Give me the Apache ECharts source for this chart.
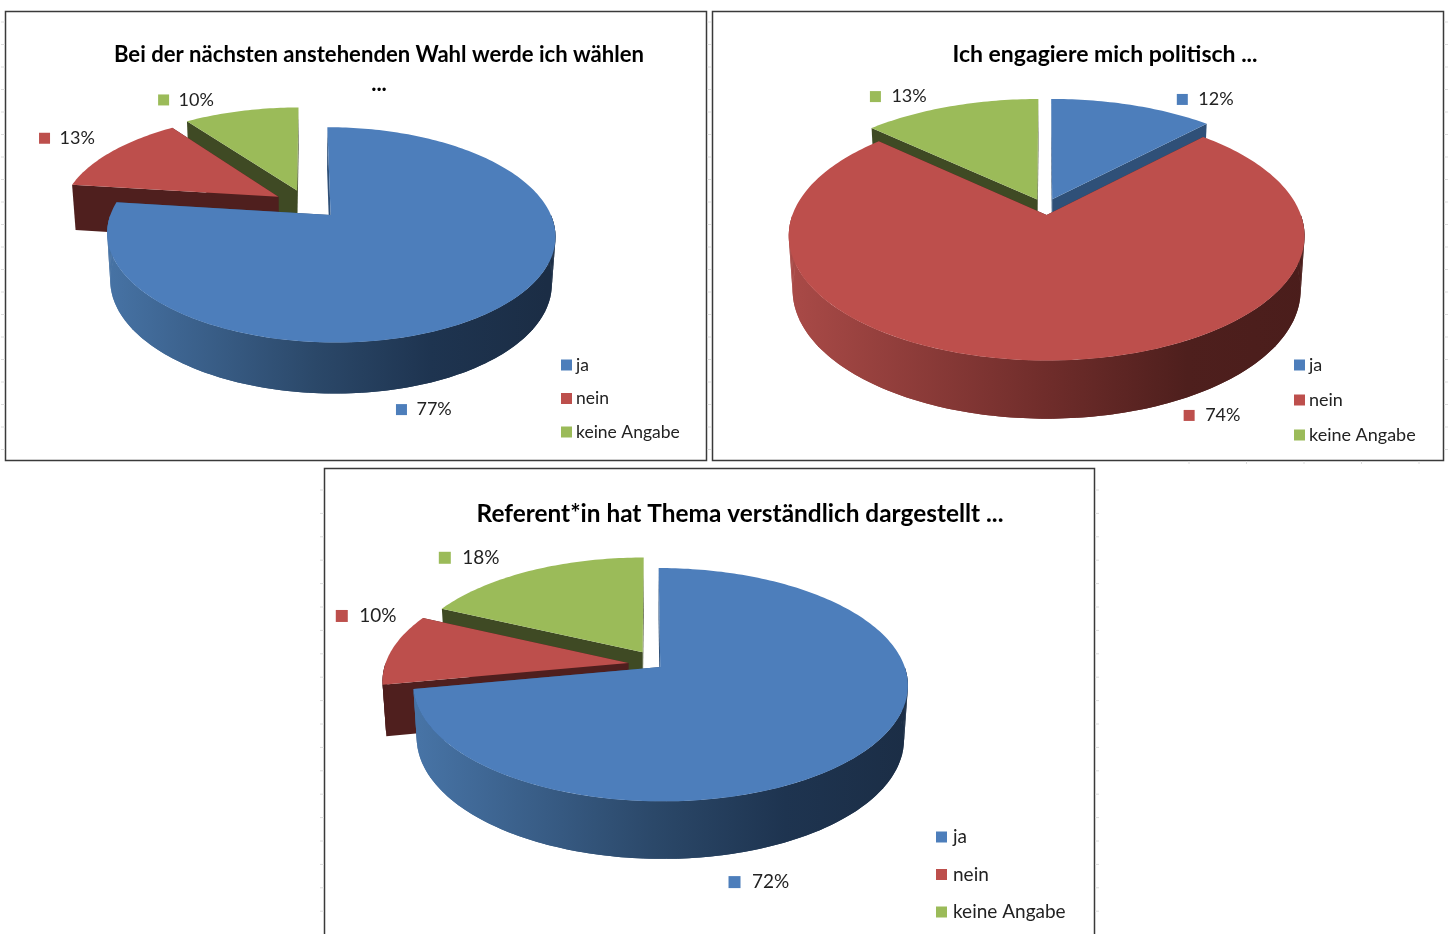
<!DOCTYPE html>
<html><head><meta charset="utf-8">
<style>html,body{margin:0;padding:0;background:#fff}#c{width:1450px;height:934px}</style>
<script src="https://cdn.jsdelivr.net/npm/echarts@6/dist/echarts.min.js"></script>
</head><body><div id="c"></div>
<script>
const categories = ['ja', 'nein', 'keine Angabe'];
const titleWahl = 'Bei der nächsten anstehenden Wahl werde ich wählen\n...';
const titlePolitisch = 'Ich engagiere mich politisch ...';
const titleReferent = 'Referent*in hat Thema verständlich dargestellt ...';
const valuesWahl = [77, 13, 10];
const valuesPolitisch = [12, 74, 13];
const valuesReferent = [72, 10, 18];

const FONT = 'Lato';
const top3D = ['#4d7ebb', '#bd4f4c', '#9bbb59'];
const wall3D = ['#2f5078', '#4f1f1e', '#3f4a24'];
const gradient3D = [
  ['#4a78ac', '#2b4869', '#1e3450', '#1b2d45'],
  ['#ab4b48', '#6e2c2a', '#4e1f1d', '#4a1d1b'],
  ['#8aa850', '#55682f', '#414e25', '#3c4722']
];
const charts = [
  { values: valuesWahl, title: titleWahl, titleX: 379, titleY: 40, titleSize: 22.1, titleLine: 29,
    cx: 309.5, cy: 204, R: 216, Ry: 100, k: 0.18, e: 0.145, depth: 46,
    order: [2, 1, 0], fontSize: 18, marker: 11, textGap: 15,
    sliceShift: [[0, 0], [-4.5, 0], [-3, 0]], sliceScale: [1, 1, 1.03], sliceDepth: [1, 1, 1],
    labelOffset: [[-101.5, 104], [-72.3, -13], [-82, -13]],
    legend: { left: 561, center: 364.5, spacing: 34, size: 17.5, pad: -1 } },
  { values: valuesPolitisch, title: titlePolitisch, titleX: 1105, titleY: 40, titleSize: 23, titleLine: 29,
    cx: 1046, cy: 205.8, R: 251, Ry: 118, k: 0.165, e: 0.078, depth: 53,
    order: [0, 2, 1], fontSize: 18, marker: 11, textGap: 16,
    sliceShift: [[-1, 2], [0, 0], [-1, 2]], sliceScale: [1.016, 1, 1.016], sliceDepth: [1, 1, 1],
    labelOffset: [[50, -5], [132.7, 55], [-77.3, -9]],
    legend: { left: 1294, center: 364.5, spacing: 35.5, size: 18, pad: -1 } },
  { values: valuesReferent, title: titleReferent, titleX: 740, titleY: 500, titleSize: 24.4, titleLine: 29,
    cx: 648, cy: 662.4, R: 243, Ry: 112.6, k: 0.15, e: 0.065, depth: 53,
    order: [2, 1, 0], fontSize: 19, marker: 12, textGap: 17.5,
    sliceShift: [[0, 0], [-4, 1.5], [3, -4]], sliceScale: [1, 1, 0.98], sliceDepth: [1, 0.96, 1],
    labelOffset: [[-135.5, 134.6], [-54.5, -31.7], [-81, -15.4]],
    legend: { left: 936, center: 836, spacing: 37, size: 19, pad: 1 } }
];

function projector(c, mid) {
  const sm = Math.sin(mid), cm = Math.cos(mid);
  return function (t, r, h) {
    const X = r * Math.sin(t) + c.e * sm;
    const Y = r * Math.cos(t) + c.e * cm;
    const d = 1 + c.k * Y;
    const shrink = 1 - 0.015 * h;
    return [
      c.cx + shrink * c.R * X / d,
      c.cy - c.Ry * Y / d + h * c.depth / (1 + 0.5 * c.k * Y)
    ];
  };
}
function sliceRenderer(c, idx) {
  const total = c.values.reduce((s, v) => s + v, 0);
  const before = c.values.slice(0, idx).reduce((s, v) => s + v, 0);
  return function (params, api) {
    const v = api.value(0);
    const a = before / total * 2 * Math.PI;
    const b = (before + v) / total * 2 * Math.PI;
    const mid = (a + b) / 2;
    const base = projector(c, mid);
    const shift = c.sliceShift[idx], rim = c.sliceScale[idx], dz = c.sliceDepth[idx];
    const p = (t, r, h) => { const q = base(t, r * rim, h * dz); return [q[0] + shift[0], q[1] + shift[1]]; };
    const arc = (s, e, h) => {
      const pts = [], n = Math.max(2, Math.ceil(Math.abs(e - s) / 0.02));
      for (let j = 0; j <= n; j++) pts.push(p(s + (e - s) * j / n, 1, h));
      return pts;
    };
    const kids = [];
    const poly = (points, fill) => kids.push({ type: 'polygon', shape: { points }, style: { fill, stroke: null }, silent: true });
    // radial side walls
    [a, b].forEach(t => poly([p(0, 0, 0), p(t, 1, 0), p(t, 1, 1), p(0, 0, 1)], wall3D[idx]));
    // outer curved wall, front half only
    const fa = Math.max(a, Math.PI / 2), fb = Math.min(b, Math.PI * 1.5);
    if (fb > fa) {
      const top = arc(fa, fb, 0), bot = arc(fa, fb, 1);
      const x0 = c.cx - c.R * 1.05, x1 = c.cx + c.R * 1.1;
      const stops = gradient3D[idx];
      const fill = (b - a) > Math.PI ? new echarts.graphic.LinearGradient(x0, 0, x1, 0, [
        { offset: 0, color: stops[0] }, { offset: 0.5, color: stops[1] },
        { offset: 0.75, color: stops[2] }, { offset: 1, color: stops[3] }
      ], true) : wall3D[idx];
      poly(top.concat(bot.slice().reverse()), fill);
      // ruled strips fill the silhouette between the upper and lower rim
      for (let j = 0; j < top.length - 1; j += 2) {
        const n = Math.min(j + 2, top.length - 1);
        poly([top[j], top[n], bot[n], bot[j]], fill);
      }
    }
    // top face
    poly([p(0, 0, 0)].concat(arc(a, b, 0)), top3D[idx]);
    // percent label with colour key
    const anchor = base(mid, 1, 0);
    const lx = anchor[0] + c.labelOffset[idx][0], ly = anchor[1] + c.labelOffset[idx][1];
    kids.push({ type: 'rect', shape: { x: lx - c.marker / 2, y: ly - c.marker / 2, width: c.marker, height: c.marker },
      style: { fill: top3D[idx] }, silent: true });
    kids.push({ type: 'text', silent: true, style: { text: v + '%', x: lx + c.textGap, y: ly,
      fill: '#222', font: c.fontSize + 'px ' + FONT, textAlign: 'left', textVerticalAlign: 'middle' } });
    return { type: 'group', children: kids };
  };
}

const series = [], titles = [], legends = [];
charts.forEach((c, ci) => {
  titles.push({ text: c.title, left: c.titleX, top: c.titleY, textAlign: 'center', padding: 0,
    textStyle: { fontFamily: FONT, fontWeight: 'bold', fontSize: c.titleSize, lineHeight: c.titleLine, color: '#000' } });
  legends.push({ orient: 'vertical', left: c.legend.left, top: c.legend.center - 8.5, padding: 0,
    itemWidth: 11, itemHeight: 11, itemGap: c.legend.spacing - 18.5, selectedMode: false,
    icon: 'rect', data: categories.slice(),
    textStyle: { fontFamily: FONT, fontSize: c.legend.size, lineHeight: 18, color: '#222', padding: [0, 0, 0, c.legend.pad] } });
  c.order.forEach((idx, pos) => {
    series.push({ type: 'custom', name: categories[idx], coordinateSystem: 'none', z: 2 + ci * 5 + pos,
      silent: true, itemStyle: { color: top3D[idx] }, data: [[c.values[idx]]], renderItem: sliceRenderer(c, idx) });
  });
});

// frames and faint sheet-grid ticks around them
const frames = [[5, 11, 701, 449], [712, 11, 731, 449], [324, 468, 770, 480]];
const graphics = frames.map(f => ({ type: 'rect', z: 0, shape: { x: f[0] + 0.5, y: f[1] + 0.5, width: f[2], height: f[3] },
  style: { fill: '#fff', stroke: '#3a3a3a', lineWidth: 1.5 }, silent: true }));
const tick = (x1, y1, x2, y2) => graphics.push({ type: 'line', z: 0, silent: true, shape: { x1, y1, x2, y2 }, style: { stroke: '#dcdcdc', lineWidth: 1 } });
for (let y = 490; y < 934; y += 23.4) { tick(320, y, 324, y); tick(1095, y, 1099, y); }
for (let y = 22; y < 460; y += 22.5) { tick(1444, y, 1448, y); tick(1, y, 5, y); tick(707, y, 711, y); }
for (let x = 1189; x < 1440; x += 57.5) tick(x, 461, x, 464);

const chart = echarts.init(document.getElementById('c'), null, { renderer: 'canvas', width: 1450, height: 934 });
chart.setOption({
  animation: false, backgroundColor: '#fff',
  title: titles, legend: legends, series: series, graphic: { elements: graphics }
});
</script></body></html>
